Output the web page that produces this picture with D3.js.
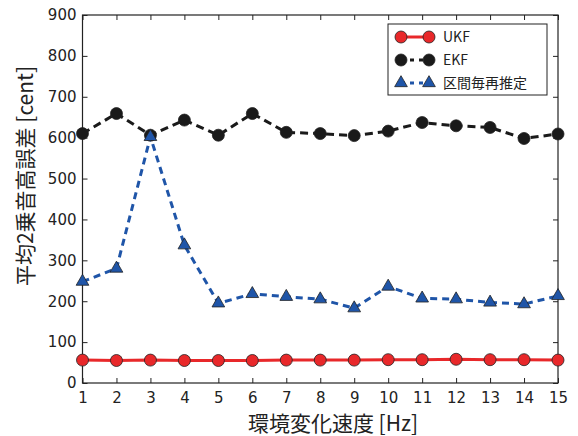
<!DOCTYPE html>
<html>
<head>
<meta charset="utf-8">
<script src="https://cdn.jsdelivr.net/npm/d3@7"></script>
<style>
  body { margin: 0; background: #fff; }
  text { fill: #222; }
</style>
</head>
<body>
<div id="chart"></div>
<script>
// speeds [Hz]
let speeds = [1, 2, 3, 4, 5, 6, 7, 8, 9, 10, 11, 12, 13, 14, 15];
// mean squared pitch error [cent]
let ukf = [56, 55, 56, 55, 55, 55, 56, 56, 56, 57, 57, 58, 57, 57, 56];
let ekf = [610, 659, 606, 643, 606, 659, 613, 610, 605, 616, 637, 629, 625, 598, 609];
let interval = [248, 280, 602, 337, 195, 218, 211, 205, 183, 236, 207, 205, 197, 193, 213];
let yTicks = [0, 100, 200, 300, 400, 500, 600, 700, 800, 900];
let seriesNames = ["UKF", "EKF", "区間毎再推定"];

let width = 578, height = 436;
let plotLeft = 82.5, plotRight = 558, plotTop = 15, plotBottom = 383;

let svg = d3.select("#chart").append("svg")
  .attr("width", width).attr("height", height);

let xScale = d3.scaleLinear().domain([1, 15]).range([plotLeft, plotRight]);
let yScale = d3.scaleLinear().domain([0, 900]).range([plotBottom, plotTop]);

// frame
svg.append("rect")
  .attr("x", plotLeft).attr("y", plotTop)
  .attr("width", plotRight - plotLeft).attr("height", plotBottom - plotTop)
  .attr("fill", "none").attr("stroke", "#222").attr("stroke-width", 1.2);

// inward ticks, matplotlib style
let xAxis = svg.append("g")
  .attr("transform", `translate(0, ${plotBottom})`)
  .call(d3.axisBottom(xScale).tickValues(speeds).tickFormat(d3.format("d"))
    .tickSizeInner(-5).tickSizeOuter(0).tickPadding(9));
let xTop = svg.append("g")
  .attr("transform", `translate(0, ${plotTop})`)
  .call(d3.axisTop(xScale).tickValues(speeds).tickFormat("")
    .tickSizeInner(-5).tickSizeOuter(0));
let yAxis = svg.append("g")
  .attr("transform", `translate(${plotLeft}, 0)`)
  .call(d3.axisLeft(yScale).tickValues(yTicks).tickFormat(d3.format("d"))
    .tickSizeInner(-5).tickSizeOuter(0).tickPadding(6));
let yRight = svg.append("g")
  .attr("transform", `translate(${plotRight}, 0)`)
  .call(d3.axisRight(yScale).tickValues(yTicks).tickFormat("")
    .tickSizeInner(-5).tickSizeOuter(0));

[xAxis, xTop, yAxis, yRight].forEach(a => {
  a.select(".domain").remove();
  a.selectAll("line").attr("stroke", "#222");
  a.selectAll("text").attr("font-size", 15).attr("font-family", "DejaVu Sans").attr("fill", "#2a2a2a");
});

// axis labels
svg.append("text")
  .attr("x", 333).attr("y", 431)
  .attr("text-anchor", "middle")
  .attr("font-family", "Noto Sans CJK JP")
  .attr("font-size", 21)
  .text("環境変化速度 [Hz]");
svg.append("text")
  .attr("transform", "translate(33, 176) rotate(-90)")
  .attr("text-anchor", "middle")
  .attr("font-family", "Noto Sans CJK JP")
  .attr("font-size", 21)
  .text("平均2乗音高誤差 [cent]");

let line = d3.line()
  .x((d, i) => xScale(speeds[i]))
  .y(d => yScale(d));

let tri = d3.symbol().type(d3.symbolTriangle).size(70);

function drawSeries(values, color, dash, marker) {
  let g = svg.append("g");
  g.append("path")
    .datum(values)
    .attr("d", line)
    .attr("fill", "none")
    .attr("stroke", color)
    .attr("stroke-width", 3)
    .attr("stroke-dasharray", dash);
  let pts = g.selectAll(".pt")
    .data(values)
    .enter();
  if (marker === "circle") {
    pts.append("circle")
      .attr("cx", (d, i) => xScale(speeds[i]))
      .attr("cy", d => yScale(d))
      .attr("r", 6)
      .attr("fill", color)
      .attr("stroke", "#222")
      .attr("stroke-width", 0.8);
  } else {
    pts.append("path")
      .attr("d", tri)
      .attr("transform", (d, i) => `translate(${xScale(speeds[i])}, ${yScale(d)})`)
      .attr("fill", color)
      .attr("stroke", "#222")
      .attr("stroke-width", 0.8);
  }
}

drawSeries(ekf, "#1a1a1a", "8 5", "circle");
drawSeries(interval, "#1f55a8", "7 5", "triangle");
drawSeries(ukf, "#e8282a", null, "circle");

// legend
let legend = svg.append("g");
legend.append("rect")
  .attr("x", 388).attr("y", 24)
  .attr("width", 159).attr("height", 71)
  .attr("fill", "#fff").attr("stroke", "#222").attr("stroke-width", 1);

let legStyles = [
  { color: "#e8282a", dash: null, marker: "circle" },
  { color: "#1a1a1a", dash: "4 5", marker: "circle" },
  { color: "#1f55a8", dash: "4 5", marker: "triangle" }
];
seriesNames.forEach((name, i) => {
  let y = 37 + i * 23;
  let s = legStyles[i];
  legend.append("line")
    .attr("x1", 401).attr("x2", 429)
    .attr("y1", y).attr("y2", y)
    .attr("stroke", s.color).attr("stroke-width", 3)
    .attr("stroke-dasharray", s.dash);
  [401, 429].forEach(x => {
    if (s.marker === "circle") {
      legend.append("circle")
        .attr("cx", x).attr("cy", y).attr("r", 6)
        .attr("fill", s.color).attr("stroke", "#222").attr("stroke-width", 0.8);
    } else {
      legend.append("path")
        .attr("d", tri)
        .attr("transform", `translate(${x}, ${y})`)
        .attr("fill", s.color).attr("stroke", "#222").attr("stroke-width", 0.8);
    }
  });
  legend.append("text")
    .attr("x", 443).attr("y", y + 5)
    .attr("font-family", "Noto Sans CJK JP")
    .attr("font-size", 14)
    .text(name);
});
</script>
</body>
</html>
